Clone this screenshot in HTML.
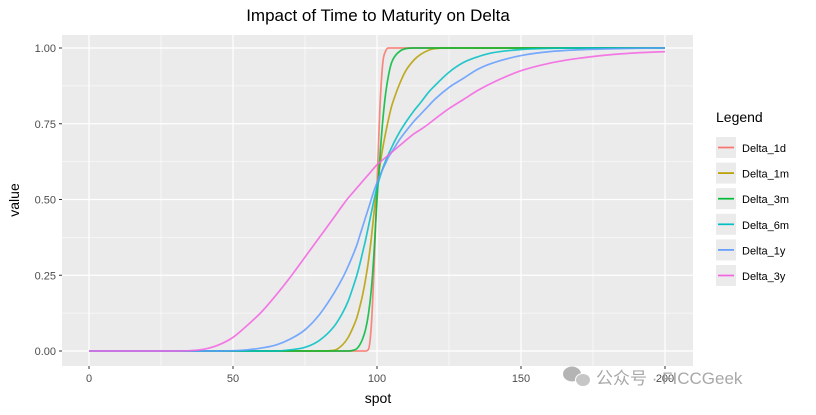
<!DOCTYPE html>
<html><head><meta charset="utf-8"><style>
body{margin:0;background:#fff;font-family:"Liberation Sans",Arial,sans-serif;}
svg text{font-family:"Liberation Sans","Noto Sans CJK SC",sans-serif;}
</style></head><body>
<svg id="chart" width="816" height="410" xmlns="http://www.w3.org/2000/svg">
<rect width="816" height="410" fill="#fff"/>
<text x="378" y="21" text-anchor="middle" font-size="17" fill="#000">Impact of Time to Maturity on Delta</text>
<rect x="62" y="35" width="631" height="331" fill="#EBEBEB"/>
<g id="grid"></g>
<g id="series"></g>
<g id="axes"></g>
<text x="378" y="403" text-anchor="middle" font-size="14" fill="#000">spot</text>
<text transform="translate(19,200) rotate(-90)" text-anchor="middle" font-size="14" fill="#000">value</text>
<g id="legend">
<text x="716" y="122" font-size="14" fill="#000">Legend</text>
</g>
<g opacity="0.85">
<ellipse cx="572" cy="374" rx="9" ry="7.5" fill="#a8a8a8"/>
<ellipse cx="583" cy="380" rx="7.5" ry="6.5" fill="#bdbdbd" stroke="#fff" stroke-width="1"/>
<text x="596" y="384" font-size="17" fill="#9a9a9a">公众号 · FICCGeek</text>
</g>
</svg>
<script>
const spots=[0,10,20,30,35,40,45,50,55,60,65,70,75,80,85,88,90,92,93,94,95,96,97,98,99,100,101,102,103,104,105,106,108,110,113,115,118,120,125,130,135,140,150,160,170,180,190,200];
const seriesNames=["Delta_1d","Delta_1m","Delta_3m","Delta_6m","Delta_1y","Delta_3y"];
const delta1d=[0,0,0,0,0,0,0,0,0,0,0,0,0,0,0,0,0,0,0,0,0,0,.005,.08,.28,.55,.8,.95,.99,1,1,1,1,1,1,1,1,1,1,1,1,1,1,1,1,1,1,1];
const delta1m=[0,0,0,0,0,0,0,0,0,0,0,0,0,0,.002,.02,.045,.085,.11,.145,.185,.235,.295,.37,.46,.54,.61,.67,.72,.765,.805,.835,.885,.925,.962,.978,.993,.998,1,1,1,1,1,1,1,1,1,1];
const delta3m=[0,0,0,0,0,0,0,0,0,0,0,0,0,0,0,0,0,.003,.008,.02,.04,.07,.12,.2,.33,.5,.64,.76,.85,.91,.95,.97,.99,.998,1,1,1,1,1,1,1,1,1,1,1,1,1,1];
const delta6m=[0,0,0,0,0,0,0,0,0,0,0,.004,.012,.035,.08,.125,.165,.22,.25,.285,.325,.365,.41,.455,.5,.54,.573,.603,.628,.65,.67,.69,.725,.755,.795,.818,.855,.875,.92,.952,.971,.984,.995,.999,1,1,1,1];
const delta1y=[0,0,0,0,0,0,0,.001,.004,.01,.02,.04,.07,.12,.19,.24,.28,.325,.35,.38,.41,.44,.47,.5,.53,.555,.58,.6,.62,.64,.655,.67,.7,.725,.76,.78,.81,.83,.87,.9,.93,.95,.975,.988,.994,.997,.999,1];
const delta3y=[0,0,0,0,.001,.006,.02,.045,.085,.13,.185,.245,.31,.375,.44,.48,.505,.527,.538,.549,.56,.571,.582,.593,.604,.615,.623,.631,.639,.647,.655,.663,.679,.695,.718,.73,.75,.765,.8,.83,.86,.885,.925,.95,.966,.977,.984,.988];
const xTicks=[0,50,100,150,200];
const yTicks=[0,0.25,0.5,0.75,1];
const yTickLabels=["0.00","0.25","0.50","0.75","1.00"];
const colors=["#F8766D","#B79F00","#00BA38","#00BFC4","#619CFF","#F564E3"];
const allSeries=[delta1d,delta1m,delta3m,delta6m,delta1y,delta3y];
const NS="http://www.w3.org/2000/svg";
const X=s=>89+s*(576/200);
const Y=v=>351-v*303;
function mk(tag,attrs,parent){const e=document.createElementNS(NS,tag);for(const k in attrs)e.setAttribute(k,attrs[k]);parent.appendChild(e);return e;}
function smoothPath(xs,ys){const n=xs.length;const d=[],m=new Array(n).fill(0);
 for(let i=0;i<n-1;i++)d.push((ys[i+1]-ys[i])/(xs[i+1]-xs[i]));
 m[0]=d[0];m[n-1]=d[n-2];
 for(let i=1;i<n-1;i++){m[i]=(d[i-1]*d[i]<=0)?0:(d[i-1]+d[i])/2;}
 for(let i=0;i<n-1;i++){if(d[i]===0){m[i]=0;m[i+1]=0;continue;}const a=m[i]/d[i],b=m[i+1]/d[i],s=a*a+b*b;if(s>9){const t=3/Math.sqrt(s);m[i]=t*a*d[i];m[i+1]=t*b*d[i];}}
 let p='M'+xs[0].toFixed(2)+' '+ys[0].toFixed(2);
 for(let i=0;i<n-1;i++){const h=(xs[i+1]-xs[i])/3;p+=' C'+(xs[i]+h).toFixed(2)+' '+(ys[i]+m[i]*h).toFixed(2)+' '+(xs[i+1]-h).toFixed(2)+' '+(ys[i+1]-m[i+1]*h).toFixed(2)+' '+xs[i+1].toFixed(2)+' '+ys[i+1].toFixed(2);}
 return p;}
const grid=document.getElementById('grid'),axes=document.getElementById('axes'),ser=document.getElementById('series'),leg=document.getElementById('legend');
for(let i=0;i<xTicks.length-1;i++){const m=(xTicks[i]+xTicks[i+1])/2;const l=mk('line',{x1:X(m),x2:X(m),y1:35,y2:366,stroke:'#fff','stroke-width':0.6},grid);}
for(let i=0;i<yTicks.length-1;i++){const m=(yTicks[i]+yTicks[i+1])/2;const l=mk('line',{x1:62,x2:693,y1:Y(m),y2:Y(m),stroke:'#fff','stroke-width':0.6},grid);}
xTicks.forEach(t=>{const l=mk('line',{x1:X(t),x2:X(t),y1:35,y2:366,stroke:'#fff','stroke-width':1.2},grid);
 const tk=mk('line',{x1:X(t),x2:X(t),y1:366,y2:369,stroke:'#333','stroke-width':1},axes);
 const tx=mk('text',{x:X(t),y:382,'text-anchor':'middle','font-size':11,fill:'#4d4d4d'},axes);tx.textContent=t;});
yTicks.forEach((t,i)=>{const l=mk('line',{x1:62,x2:693,y1:Y(t),y2:Y(t),stroke:'#fff','stroke-width':1.2},grid);
 const tk=mk('line',{x1:59,x2:62,y1:Y(t),y2:Y(t),stroke:'#333','stroke-width':1},axes);
 const tx=mk('text',{x:56,y:Y(t)+4,'text-anchor':'end','font-size':11,fill:'#4d4d4d'},axes);tx.textContent=yTickLabels[i];});
allSeries.forEach((vals,si)=>{
 const p=mk('path',{d:smoothPath(spots.map(X),vals.map(Y)),fill:'none',stroke:colors[si],'stroke-width':1.7,'stroke-opacity':0.85,'stroke-linejoin':'round'},ser);
 
 
 const y0=137+si*25.6;
 const g=mk('g',{},leg);
 
 
 mk('rect',{x:716,y:y0,width:20,height:21,fill:'#EBEBEB'},g);
 mk('line',{x1:718,x2:734,y1:y0+10.5,y2:y0+10.5,stroke:colors[si],'stroke-width':1.7},g);
 const t=mk('text',{x:742,y:y0+15,'font-size':11,fill:'#000'},g);t.textContent=seriesNames[si];});
</script>
</body></html>
